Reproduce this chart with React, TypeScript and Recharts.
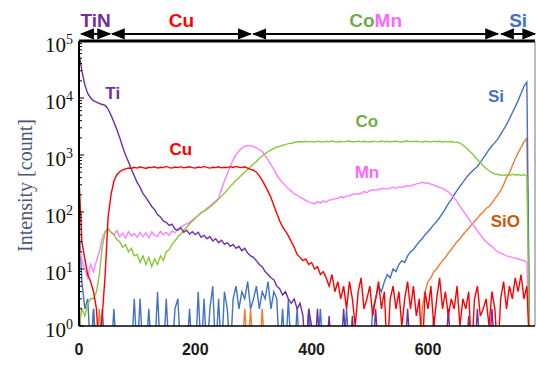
import { LineChart, Line, XAxis, YAxis, ReferenceLine, ReferenceDot } from "recharts";

// sputter depth (cycles), sampled every 5
const depth = [
  0, 5, 10, 15, 20, 25, 30, 35, 40, 45,
  50, 55, 60, 65, 70, 75, 80, 85, 90, 95,
  100, 105, 110, 115, 120, 125, 130, 135, 140, 145,
  150, 155, 160, 165, 170, 175, 180, 185, 190, 195,
  200, 205, 210, 215, 220, 225, 230, 235, 240, 245,
  250, 255, 260, 265, 270, 275, 280, 285, 290, 295,
  300, 305, 310, 315, 320, 325, 330, 335, 340, 345,
  350, 355, 360, 365, 370, 375, 380, 385, 390, 395,
  400, 405, 410, 415, 420, 425, 430, 435, 440, 445,
  450, 455, 460, 465, 470, 475, 480, 485, 490, 495,
  500, 505, 510, 515, 520, 525, 530, 535, 540, 545,
  550, 555, 560, 565, 570, 575, 580, 585, 590, 595,
  600, 605, 610, 615, 620, 625, 630, 635, 640, 645,
  650, 655, 660, 665, 670, 675, 680, 685, 690, 695,
  700, 705, 710, 715, 720, 725, 730, 735, 740, 745,
  750, 755, 760, 765, 770, 775,
];

// 0.3 = zero count (falls below the 10^0 floor)
const ti = [
  60000, 30000, 17000, 12000, 10000, 9000, 8500, 8000, 7700, 7400,
  6400, 5000, 3800, 2800, 2000, 1400, 1000, 760, 560, 430,
  330, 270, 210, 180, 150, 125, 110, 90, 82, 70,
  66, 58, 61, 50, 48, 53, 44, 48, 41, 45,
  40, 44, 36, 39, 34, 37, 31, 34, 29, 32,
  27, 29, 25, 27, 23, 25, 21, 23, 19, 17,
  16, 14, 12, 11, 9, 8, 7, 6.5, 5, 4.5,
  3.5, 4, 3, 2.5, 3, 2, 2.5, 1.5, 0.3, 2,
  1, 0.3, 2, 0.3, 1, 0.3, 1.5, 0.3, 0.3, 1,
  0.3, 2, 0.3, 0.3, 1.5, 0.3, 0.3, 0.3, 1, 0.3,
  0.3, 0.3, 2, 0.3, 0.3, 0.3, 0.3, 1, 0.3, 0.3,
  0.3, 0.3, 0.3, 2, 0.3, 0.3, 0.3, 0.3, 0.3, 1,
  0.3, 0.3, 1.5, 0.3, 0.3, 0.3, 0.3, 2, 0.3, 0.3,
  0.3, 0.3, 0.3, 0.3, 1.5, 0.3, 0.3, 2, 0.3, 0.3,
  0.3, 0.3, 2, 0.3, 0.3, 0.3, 0.3, 0.3, 1, 0.3,
  0.3, 0.3, 0.3, 0.3, 0.3, 0.3,
];

const cu = [
  400, 30, 15, 8, 6, 4, 2, 0.3, 1.5, 8,
  80, 200, 350, 450, 510, 550, 570, 590, 580, 610,
  590, 620, 600, 580, 610, 600, 620, 590, 610, 600,
  630, 600, 590, 615, 600, 625, 595, 610, 620, 600,
  590, 615, 600, 630, 605, 590, 610, 600, 620, 595,
  610, 600, 625, 605, 630, 610, 600, 620, 590, 560,
  540, 500, 430, 360, 290, 230, 180, 130, 95, 70,
  55, 46, 38, 30, 24, 18, 16, 14, 15, 12,
  13, 10, 11, 8, 9, 7, 5, 8, 4, 6,
  3, 5, 2, 6, 3, 1, 4, 7, 2, 3,
  5, 1.5, 3, 6, 2, 4, 0.3, 3, 5, 2,
  4, 1, 3, 6, 2, 5, 1.5, 3, 0.3, 4,
  2, 5, 1, 3, 7, 2, 4, 1.5, 3, 2,
  5, 1, 3, 2, 4, 0.3, 3, 5, 1.5, 2,
  3, 1, 4, 2, 0.3, 3, 6, 2, 5, 3,
  7, 4, 8, 3, 5, 0.3,
];

const co = [
  1, 2, 1.5, 2.5, 3, 3, 4, 8, 25, 45,
  52, 44, 40, 33, 30, 24, 27, 20, 23, 17,
  18, 13, 17, 12, 16, 11, 15, 12, 17, 14,
  20, 22, 27, 31, 37, 41, 48, 54, 62, 69,
  78, 87, 98, 104, 112, 121, 135, 148, 170, 188,
  215, 242, 280, 315, 360, 395, 450, 495, 560, 620,
  700, 770, 880, 960, 1060, 1140, 1230, 1300, 1380, 1420,
  1480, 1520, 1580, 1610, 1660, 1690, 1720, 1690, 1740, 1700,
  1730, 1690, 1750, 1710, 1680, 1740, 1700, 1760, 1710, 1690,
  1740, 1700, 1730, 1760, 1690, 1720, 1750, 1700, 1740, 1710,
  1690, 1750, 1720, 1700, 1760, 1710, 1740, 1690, 1730, 1750,
  1710, 1690, 1740, 1760, 1700, 1730, 1750, 1710, 1690, 1740,
  1720, 1700, 1750, 1710, 1740, 1690, 1730, 1700, 1720, 1680,
  1670, 1620, 1500, 1350, 1200, 1080, 950, 830, 730, 650,
  580, 530, 490, 465, 455, 445, 440, 450, 440, 460,
  445, 455, 435, 455, 425, 0.3,
];

const mn = [
  25, 14, 10, 7, 12, 9, 14, 20, 35, 45,
  50, 44, 40, 47, 37, 43, 35, 45, 38, 42,
  36, 44, 37, 43, 35, 45, 39, 37, 46, 40,
  44, 39, 47, 43, 50, 55, 58, 62, 66, 72,
  80, 87, 96, 104, 116, 127, 141, 155, 175, 250,
  350, 470, 620, 820, 1000, 1180, 1320, 1420, 1470, 1460,
  1400, 1330, 1250, 1150, 980, 820, 680, 560, 450, 380,
  330, 290, 255, 235, 205, 198, 180, 172, 158, 152,
  143, 140, 152, 143, 157, 148, 162, 163, 172, 173,
  187, 178, 192, 193, 203, 208, 207, 213, 228, 218,
  238, 243, 242, 248, 258, 257, 252, 263, 272, 258,
  278, 268, 283, 288, 287, 298, 312, 318, 333, 322,
  322, 308, 298, 280, 270, 260, 245, 225, 200, 178,
  152, 126, 106, 91, 76, 64, 56, 46, 40, 34,
  30, 27, 25, 22, 20, 19, 18, 17, 16.5, 16,
  15.5, 15, 14.5, 14, 13, 0.3,
];

const si = [
  60, 6, 2, 3, 0.3, 2, 0.3, 0.3, 2, 0.3,
  0.3, 0.3, 2, 0.3, 0.3, 0.3, 0.3, 0.3, 0.3, 3,
  0.3, 3, 0.3, 0.3, 2, 0.3, 0.3, 4, 0.3, 0.3,
  3, 0.3, 0.3, 2, 3, 0.3, 0.3, 0.3, 2, 0.3,
  0.3, 4, 0.3, 3, 0.3, 2, 5, 0.3, 3, 0.3,
  4, 2, 0.3, 3, 5, 2, 4, 3, 6, 2,
  3, 5, 2, 4, 3, 6, 2, 4, 3, 0.3,
  2, 0.3, 3, 0.3, 0.3, 2, 0.3, 0.3, 0.3, 2,
  0.3, 0.3, 0.3, 2, 0.3, 0.3, 0.3, 0.3, 0.3, 0.3,
  0.3, 0.3, 2, 0.3, 0.3, 0.3, 0.3, 0.3, 0.3, 0.3,
  0.3, 2, 3, 5, 4, 6, 8, 7, 10, 9,
  12, 14, 13, 17, 20, 22, 26, 30, 34, 40,
  45, 52, 60, 68, 80, 95, 115, 140, 165, 200,
  240, 280, 330, 390, 450, 510, 570, 630, 740, 880,
  1050, 1250, 1450, 1650, 1900, 2300, 2800, 3400, 4300, 5500,
  7000, 9000, 12000, 16000, 19000, 0.3,
];

const sio = [
  3, 0.3, 0.3, 0.3, 0.3, 2, 0.3, 2, 0.3, 0.3,
  0.3, 0.3, 0.3, 0.3, 0.3, 0.3, 0.3, 0.3, 0.3, 0.3,
  0.3, 0.3, 0.3, 0.3, 0.3, 0.3, 0.3, 0.3, 0.3, 0.3,
  0.3, 0.3, 0.3, 0.3, 0.3, 0.3, 0.3, 0.3, 0.3, 0.3,
  0.3, 0.3, 0.3, 0.3, 0.3, 0.3, 0.3, 0.3, 0.3, 0.3,
  0.3, 0.3, 0.3, 0.3, 0.3, 0.3, 0.3, 2, 0.3, 2,
  0.3, 0.3, 0.3, 2, 0.3, 0.3, 0.3, 0.3, 0.3, 0.3,
  0.3, 0.3, 0.3, 0.3, 0.3, 0.3, 0.3, 0.3, 0.3, 0.3,
  0.3, 0.3, 0.3, 0.3, 0.3, 0.3, 0.3, 0.3, 0.3, 0.3,
  0.3, 0.3, 0.3, 0.3, 0.3, 0.3, 0.3, 0.3, 0.3, 0.3,
  0.3, 0.3, 0.3, 0.3, 0.3, 0.3, 0.3, 0.3, 0.3, 0.3,
  0.3, 0.3, 0.3, 0.3, 0.3, 0.3, 0.3, 0.3, 2, 4,
  6, 7, 9, 10, 12, 14, 16, 19, 22, 26,
  30, 34, 40, 46, 52, 60, 68, 78, 90, 100,
  115, 125, 145, 170, 200, 240, 300, 400, 480, 650,
  850, 1100, 1350, 1700, 1950, 0.3,
];

const xTicks = [0, 200, 400, 600];
const yMajor = [1, 10, 100, 1000, 10000, 100000];
const yMinor = yMajor.slice(0, -1).flatMap((d) => [2, 3, 4, 5, 6, 7, 8, 9].map((m) => d * m));

// layer bands across the top
const regionNames = ["TiN", "Cu", "CoMn", "Si"];
const regionFrom = [4, 57, 300, 726];
const regionTo = [53, 295, 720, 784];
const regionColor = ["#7030a0", "#ff0000", "#70ad47", "#4472c4"];
const bandY = 133000;

const data = depth.map((d, i) => ({
  depth: d,
  Ti: ti[i],
  Cu: cu[i],
  Co: co[i],
  Mn: mn[i],
  Si: si[i],
  SiO: sio[i],
}));

const sans = "'Liberation Sans', Arial, sans-serif";
const serif = "'Liberation Serif', 'Times New Roman', serif";

function YTick(props: any) {
  const { x, y, payload } = props;
  const v = payload.value;
  const lg = Math.log10(v);
  const exp = Math.round(lg);
  const major = Math.abs(lg - exp) < 1e-6;
  return (
    <g>
      <line x1={x + 5} x2={x + (major ? 10 : 8)} y1={y} y2={y} stroke="#000" strokeWidth={1} />
      {major && (
        <text x={x - 1} y={y} dy={11} textAnchor="end" fontFamily={serif} fontSize={21} fill="#111">
          10
          <tspan dy={-8} fontSize={14}>
            {exp}
          </tspan>
        </text>
      )}
    </g>
  );
}

function YTitle(props: any) {
  const vb = props.viewBox;
  const cx = vb.x + 25;
  const cy = vb.y + vb.height / 2 + 2;
  return (
    <text
      x={cx}
      y={cy}
      transform={`rotate(-90 ${cx} ${cy})`}
      textAnchor="middle"
      dominantBaseline="central"
      fontFamily={serif}
      fontSize={20}
      fill="#4a5875"
    >
      Intensity [count]
    </text>
  );
}

function Band(props: any) {
  const { x1, x2, y1, idx } = props;
  const name = regionNames[idx];
  const cx = (x1 + x2) / 2;
  const id = `arr${idx}`;
  return (
    <g>
      <defs>
        <marker id={id} viewBox="0 0 10 10" refX="9" refY="5" markerWidth="7" markerHeight="7" orient="auto-start-reverse">
          <path d="M0,1 L10,5 L0,9 z" fill="#000" />
        </marker>
      </defs>
      <line x1={x1} x2={x2} y1={y1} y2={y1} stroke="#000" strokeWidth={2} markerStart={`url(#${id})`} markerEnd={`url(#${id})`} />
      <text x={cx} y={y1 - 7} textAnchor="middle" fontFamily={sans} fontWeight={700} fontSize={19} fill={regionColor[idx]}>
        {name === "CoMn" ? (
          <>
            <tspan fill="#70ad47">Co</tspan>
            <tspan fill="#ff66ff">Mn</tspan>
          </>
        ) : (
          name
        )}
      </text>
    </g>
  );
}

const inLabels = [
  { text: "Ti", x: 58, y: 12300, color: "#7030a0" },
  { text: "Cu", x: 175, y: 1275, color: "#ff0000" },
  { text: "Co", x: 495, y: 3970, color: "#70ad47" },
  { text: "Mn", x: 495, y: 505, color: "#ff66ff" },
  { text: "Si", x: 717, y: 10800, color: "#4472c4" },
  { text: "SiO", x: 733, y: 69, color: "#c55a11" },
];

export default function App() {
  return (
    <div style={{ position: "absolute", left: 0, top: 0, background: "#fff" }}>
      <LineChart width={537} height={389} data={data} margin={{ top: 41, right: 2, bottom: 33, left: 0 }}>
        <XAxis
          dataKey="depth"
          type="number"
          domain={[0, 784]}
          ticks={xTicks}
          allowDataOverflow
          height={30}
          tickLine={false}
          tickSize={0}
          tickMargin={18}
          axisLine={{ stroke: "#000", strokeWidth: 1.5 }}
          tick={{ fontFamily: sans, fontWeight: 700, fontSize: 16, fill: "#1a1a1a" }}
        />
        <YAxis
          type="number"
          scale="log"
          domain={[1, 100000]}
          allowDataOverflow
          ticks={[...yMajor, ...yMinor]}
          width={79}
          tickLine={false}
          tickSize={0}
          tickMargin={5}
          interval={0}
          axisLine={{ stroke: "#000", strokeWidth: 2 }}
          tick={<YTick />}
          label={{ content: <YTitle /> }}
        />
        <ReferenceLine y={100000} stroke="#000" strokeWidth={3} />
        <ReferenceLine x={784} stroke="#777" strokeWidth={1} />
        {regionNames.map((n, i) => (
          <ReferenceLine
            key={n}
            ifOverflow="visible"
            segment={[
              { x: regionFrom[i], y: bandY },
              { x: regionTo[i], y: bandY },
            ]}
            shape={(p: any) => <Band {...p} idx={i} />}
          />
        ))}
        <Line dataKey="SiO" stroke="#ed7d31" strokeWidth={1.4} dot={false} isAnimationActive={false} />
        <Line dataKey="Si" stroke="#4472c4" strokeWidth={1.4} dot={false} isAnimationActive={false} />
        <Line dataKey="Mn" stroke="#ff80ff" strokeWidth={1.4} dot={false} isAnimationActive={false} />
        <Line dataKey="Co" stroke="#8cc63f" strokeWidth={1.4} dot={false} isAnimationActive={false} />
        <Line dataKey="Ti" stroke="#7030a0" strokeWidth={1.4} dot={false} isAnimationActive={false} />
        <Line dataKey="Cu" stroke="#ff0000" strokeWidth={1.4} dot={false} isAnimationActive={false} />
        {inLabels.map((l) => (
          <ReferenceDot
            key={l.text}
            x={l.x}
            y={l.y}
            r={0}
            fill="none"
            stroke="none"
            label={{ value: l.text, position: "center", fill: l.color, fontSize: 17, fontWeight: 700, fontFamily: sans }}
          />
        ))}
      </LineChart>
    </div>
  );
}
